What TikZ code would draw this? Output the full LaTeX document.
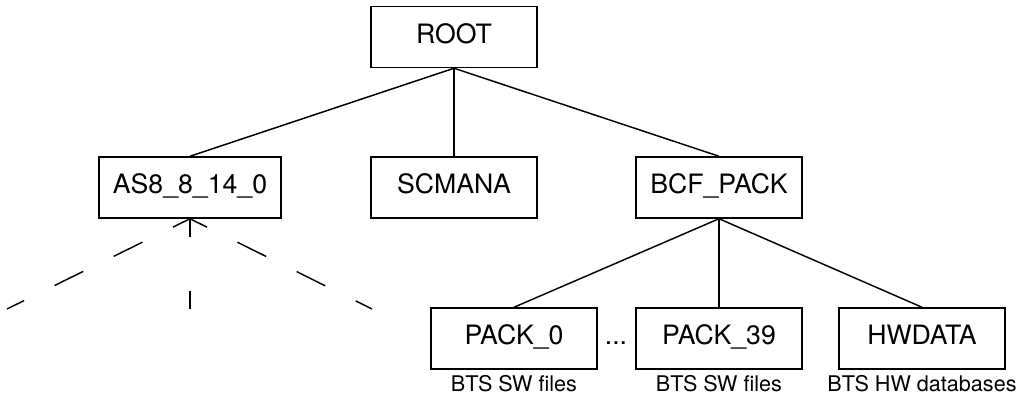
\documentclass[tikz,border=0pt]{standalone}
\usepackage{fontspec}
\setmainfont{TeX Gyre Heros}
\begin{document}
\begin{tikzpicture}[x=0.75pt,y=-0.75pt,
  box/.style={draw,line width=1.1pt,minimum width=124.5pt,minimum height=45.75pt,
    inner xsep=10.5pt,text height=14.3pt,text depth=5pt,font=\fontsize{20}{24}\selectfont},
  lbl/.style={font=\fontsize{16.2}{19}\selectfont,anchor=base},
  edge/.style={line width=1.1pt},
  hidden/.style={line width=1.1pt,dash pattern=on 24pt off 25.5pt,dash phase=9.75pt}]
\useasboundingbox (0,0) rectangle (1018,398);
% top level
\node[box] (root) at (454,37) {ROOT};
% second level
\node[box] (as) at (190,187.5) {AS8\_8\_14\_0};
\node[box] (scmana) at (454,187.5) {SCMANA};
\node[box] (bcf) at (719,187.5) {BCF\_PACK};
\draw[edge] (root.south) -- (as.north);
\draw[edge] (root.south) -- (scmana.north);
\draw[edge] (root.south) -- (bcf.north);
% packs
\node[box] (pack0) at (514,338.5) {PACK\_0};
\node[box] (pack39) at (719,338.5) {PACK\_39};
\node[box] (hwdata) at (922,338.5) {HWDATA};
\node[font=\fontsize{20}{24}\selectfont,anchor=base] (dots) at (616,345) {...};
\draw[edge] (bcf.south) -- (pack0.north);
\draw[edge] (bcf.south) -- (pack39.north);
\draw[edge] (bcf.south) -- (hwdata.north);
\node[lbl] (lbl0) at (514,392) {BTS SW files};
\node[lbl] (lbl39) at (719,392) {BTS SW files};
\node[lbl] (lblhw) at (922,392) {BTS HW databases};
% unexpanded subtree
\coordinate (leftend) at (7,309);
\coordinate (midend) at (190,309);
\coordinate (rightend) at (372,309);
\draw[hidden] (as.south) -- (leftend);
\draw[hidden,dash pattern=on 13.5pt off 40.5pt on 14.25pt off 10pt,dash phase=0pt] (as.south) -- (midend);
\draw[hidden] (as.south) -- (rightend);
\end{tikzpicture}
\end{document}
